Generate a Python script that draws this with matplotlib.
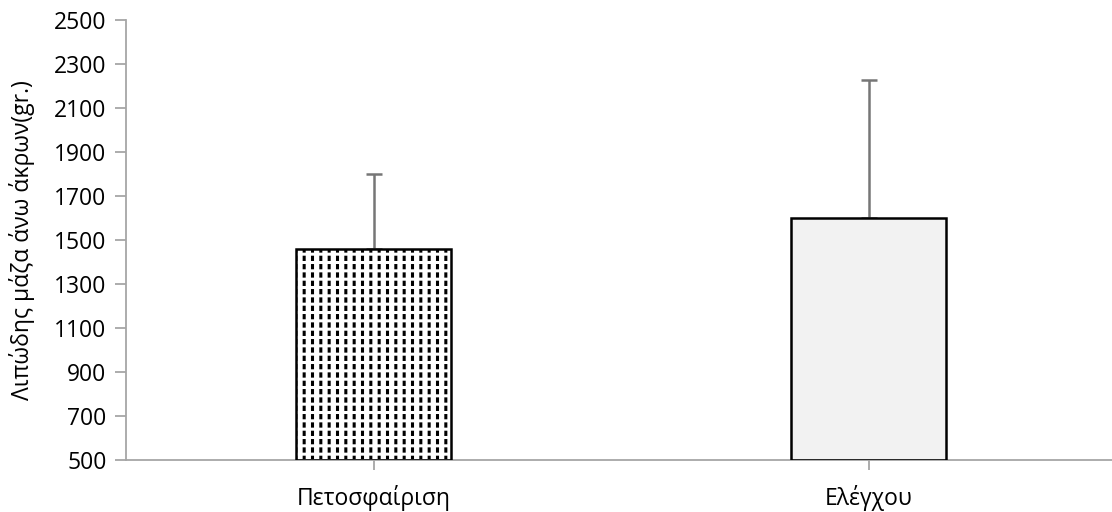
import matplotlib
matplotlib.use("Agg")
import matplotlib.pyplot as plt
import numpy as np

categories = ["Πετοσφαίριση", "Ελέγχου"]
means = [1457, 1601]
errors = [342, 625]
y_ticks = list(range(500, 2501, 200))

plt.rcParams["font.family"] = ["Open Sans", "DejaVu Sans"]
plt.rcParams["hatch.linewidth"] = 2.2

GRID = "#a6a6a6"
ERR = "#767676"

fig = plt.figure(figsize=(11.12, 5.12), dpi=100)
ax = fig.add_axes([126 / 1112, 52 / 512, 990 / 1112, 440 / 512])

x = np.arange(len(categories))
width = 0.315
base = y_ticks[0]
heights = [m - base for m in means]

# first bar: dashed vertical pattern (vertical hatch broken by white horizontal hatch)
ax.bar(x[0], heights[0], width, bottom=base, color="white", edgecolor="black",
       hatch="||", linewidth=0, zorder=2)
ax.bar(x[0], heights[0], width, bottom=base, color="none", edgecolor="white",
       hatch="--", linewidth=0, zorder=3)
# second bar: light grey
ax.bar(x[1], heights[1], width, bottom=base, color="#f2f2f2", linewidth=0, zorder=2)
# outlines
ax.bar(x, heights, width, bottom=base, color="none", edgecolor="black",
       linewidth=1.8, zorder=4)

ax.errorbar(x, means, yerr=[[0, 0], errors], fmt="none", ecolor=ERR,
            elinewidth=1.8, capsize=6, capthick=1.8, zorder=1)

ax.set_xlim(-0.5, 1.5)
ax.set_ylim(y_ticks[0], y_ticks[-1])
ax.set_yticks(y_ticks)
ax.set_xticks(x)
ax.set_xticklabels(categories)

for side in ("top", "right"):
    ax.spines[side].set_visible(False)
for side in ("left", "bottom"):
    ax.spines[side].set_color(GRID)
    ax.spines[side].set_linewidth(1.3)

ax.tick_params(axis="y", direction="out", length=8, width=1.3, color=GRID,
               labelsize=16.5, pad=6)
ax.tick_params(axis="x", direction="out", length=7, width=1.3, color=GRID,
               labelsize=16.5, pad=11)

ax.set_ylabel("Λιπώδης μάζα άνω άκρων(gr.)", fontsize=16.5, labelpad=14)

fig.savefig("out.png", dpi=100)
